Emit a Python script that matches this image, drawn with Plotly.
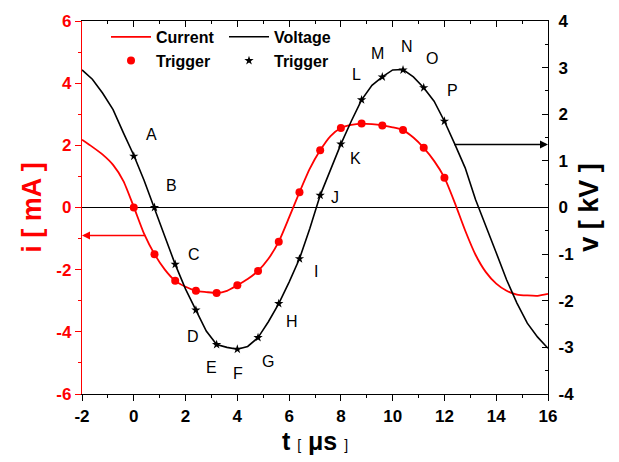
import plotly.graph_objects as go

# ---- data -------------------------------------------------------------
# sampled time axis for the continuous traces [us]
t_trace = [-2.0, -1.6, -1.2, -0.8, -0.4, 0.0, 0.4, 0.8, 1.2, 1.6, 2.0, 2.4,
           2.8, 3.2, 3.6, 4.0, 4.4, 4.8, 5.2, 5.6, 6.0, 6.4, 6.8, 7.2, 7.6,
           8.0, 8.4, 8.8, 9.2, 9.6, 10.0, 10.4, 10.8, 11.2, 11.6, 12.0, 12.4,
           12.8, 13.2, 13.6, 14.0, 14.4, 14.8, 15.2, 15.6, 16.0]

# discharge current [mA]
current = [2.18, 1.95, 1.70, 1.37, 0.85, 0.02, -0.85, -1.50, -2.00, -2.36,
           -2.55, -2.68, -2.72, -2.75, -2.68, -2.50, -2.30, -2.04, -1.65,
           -1.10, -0.32, 0.49, 1.25, 1.84, 2.30, 2.56, 2.66, 2.70, 2.68,
           2.64, 2.58, 2.49, 2.25, 1.92, 1.50, 0.96, 0.15, -0.74, -1.52,
           -2.08, -2.45, -2.68, -2.80, -2.83, -2.84, -2.78]

# applied voltage [kV]
voltage = [2.95, 2.75, 2.45, 2.10, 1.60, 1.12, 0.58, 0.00, -0.62, -1.22,
           -1.75, -2.20, -2.65, -2.94, -3.00, -3.04, -2.98, -2.79, -2.45,
           -2.06, -1.60, -1.10, -0.45, 0.26, 0.80, 1.36, 1.85, 2.31, 2.62,
           2.80, 2.95, 2.96, 2.80, 2.57, 2.28, 1.85, 1.36, 0.85, 0.17,
           -0.42, -0.97, -1.55, -2.05, -2.48, -2.78, -3.02]

# trigger instants [us] and the sampled values at each trigger
t_trig = [0.0, 0.8, 1.6, 2.4, 3.2, 4.0, 4.8, 5.6, 6.4, 7.2, 8.0, 8.8, 9.6,
          10.4, 11.2, 12.0]
i_trig = [0.00, -1.50, -2.36, -2.68, -2.75, -2.50, -2.04, -1.10, 0.49, 1.84,
          2.56, 2.70, 2.64, 2.49, 1.92, 0.96]
v_trig = [1.10, 0.00, -1.22, -2.20, -2.94, -3.04, -2.79, -2.06, -1.10, 0.26,
          1.36, 2.31, 2.80, 2.95, 2.57, 1.85]
trig_letters = ["A", "B", "C", "D", "E", "F", "G", "H", "I", "J", "K", "L",
                "M", "N", "O", "P"]
# label anchor points (t [us], v [kV]) for the trigger letters
letter_t = [0.70, 1.47, 2.32, 2.29, 3.02, 4.02, 5.18, 6.10, 7.03, 7.77, 8.58,
            8.62, 9.43, 10.55, 11.50, 12.30]
letter_v = [1.57, 0.47, -1.00, -2.77, -3.43, -3.57, -3.30, -2.45, -1.38,
            0.21, 1.06, 2.85, 3.30, 3.45, 3.19, 2.51]

# axis arrows: (start t, level) pointing to the matching axis
cur_arrow = (0.5, -0.9)     # mA, towards the left axis
volt_arrow = (12.32, 1.35)  # kV, towards the right axis

# tick positions and labels (plain hyphen as minus sign)
t_ticks = [-2, 0, 2, 4, 6, 8, 10, 12, 14, 16]
i_ticks = [-6, -4, -2, 0, 2, 4, 6]
v_ticks = [-4, -3, -2, -1, 0, 1, 2, 3, 4]


def bold_labels(vals):
    return ["<b>%d</b>" % v for v in vals]


RED = "#ff0000"
BLACK = "#000000"
FONT = "Liberation Sans, Arial, sans-serif"

fig = go.Figure()

fig.add_trace(go.Scatter(
    x=t_trace, y=current, mode="lines", name="<b>Current</b>",
    line=dict(color=RED, width=1.8, shape="spline", smoothing=0.6),
    legend="legend", legendrank=1))
fig.add_trace(go.Scatter(
    x=t_trig, y=i_trig, mode="markers", name="<b>Trigger</b>",
    marker=dict(color=RED, size=8, symbol="circle"),
    legend="legend", legendrank=2))
fig.add_trace(go.Scatter(
    x=t_trace, y=voltage, mode="lines", name="<b>Voltage</b>",
    line=dict(color=BLACK, width=1.6), yaxis="y2",
    legend="legend2", legendrank=1))
fig.add_trace(go.Scatter(
    x=t_trig, y=v_trig, mode="markers", name="<b>Trigger</b>",
    marker=dict(color=BLACK, size=7, symbol="star"), yaxis="y2",
    legend="legend2", legendrank=2))
# carrier trace for the top tick axis
fig.add_trace(go.Scatter(x=[t_trace[0]], y=[current[0]], xaxis="x2",
                         mode="markers", marker=dict(opacity=0),
                         showlegend=False, hoverinfo="skip"))

annotations = []
for lab, lt, lv in zip(trig_letters, letter_t, letter_v):
    annotations.append(dict(x=lt, y=lv, xref="x", yref="y2", text=lab,
                            showarrow=False,
                            font=dict(family=FONT, size=16, color=BLACK)))

annotations.append(dict(x=-2, y=cur_arrow[1], xref="x", yref="y",
                        ax=cur_arrow[0], ay=cur_arrow[1], axref="x", ayref="y",
                        text="", showarrow=True, arrowhead=2, arrowsize=1,
                        arrowwidth=1.6, arrowcolor=RED, standoff=0))
annotations.append(dict(x=16, y=volt_arrow[1], xref="x", yref="y2",
                        ax=volt_arrow[0], ay=volt_arrow[1], axref="x",
                        ayref="y2", text="", showarrow=True, arrowhead=2,
                        arrowsize=1, arrowwidth=1.6, arrowcolor=BLACK,
                        standoff=0))

tick_font = dict(family=FONT, size=17, color=BLACK)

fig.update_layout(
    width=619, height=462,
    margin=dict(l=82, r=71, t=19, b=66),
    paper_bgcolor="white", plot_bgcolor="white",
    font=dict(family=FONT, color=BLACK),
    showlegend=True,
    annotations=annotations,
    xaxis=dict(
        range=[-2, 16], tickmode="array", tickvals=t_ticks,
        ticktext=bold_labels(t_ticks), showgrid=False, zeroline=False,
        showline=True, linecolor=BLACK, linewidth=1.3,
        ticks="outside", ticklen=6, tickwidth=1.3, tickcolor=BLACK,
        minor=dict(dtick=1, tick0=0, ticks="outside", ticklen=3,
                   tickcolor=BLACK),
        tickfont=tick_font,
        title=dict(
            text="<b>t</b> <span style='font-size:14px'>[</span> "
                 "<b>\u03bcs</b> <span style='font-size:14px'>]</span>",
            font=dict(family=FONT, size=25, color=BLACK), standoff=7),
    ),
    xaxis2=dict(
        range=[-2, 16], tickmode="array", tickvals=t_ticks, overlaying="x",
        side="top", showgrid=False, zeroline=False, showline=True,
        linecolor=BLACK, linewidth=1.3, ticks="inside", ticklen=6,
        tickwidth=1.3, tickcolor=BLACK, showticklabels=False,
        minor=dict(dtick=1, tick0=0, ticks="inside", ticklen=3,
                   tickcolor=BLACK),
    ),
    yaxis=dict(
        range=[-6, 6], tickmode="array", tickvals=i_ticks,
        ticktext=bold_labels(i_ticks), showgrid=False,
        zeroline=True, zerolinecolor=BLACK, zerolinewidth=1,
        showline=True, linecolor=RED, linewidth=1.3,
        ticks="outside", ticklen=6, tickwidth=1.3, tickcolor=RED,
        minor=dict(dtick=1, tick0=0, ticks="outside", ticklen=3,
                   tickcolor=RED),
        tickfont=dict(family=FONT, size=17, color=RED),
        title=dict(text="<b>i [ mA ]</b>",
                   font=dict(family=FONT, size=27, color=RED), standoff=6),
    ),
    yaxis2=dict(
        range=[-4, 4], tickmode="array", tickvals=v_ticks,
        ticktext=bold_labels(v_ticks), overlaying="y", side="right",
        showgrid=False, zeroline=False, showline=True, linecolor=BLACK,
        linewidth=1.3, ticks="inside", ticklen=6, tickwidth=1.3,
        tickcolor=BLACK,
        minor=dict(dtick=0.5, tick0=0, ticks="inside", ticklen=3,
                   tickcolor=BLACK),
        tickfont=tick_font, ticklabelstandoff=6,
        title=dict(text="<b>v [ kV ]</b>",
                   font=dict(family=FONT, size=27, color=BLACK), standoff=5),
    ),
    legend=dict(
        x=(106 - 82) / 466, y=1.003, xanchor="left", yanchor="top",
        bgcolor="rgba(0,0,0,0)", borderwidth=0, itemwidth=40,
        font=dict(family=FONT, size=16, color=BLACK), tracegroupgap=0,
    ),
    legend2=dict(
        x=(224 - 82) / 466, y=1.003, xanchor="left", yanchor="top",
        bgcolor="rgba(0,0,0,0)", borderwidth=0, itemwidth=40,
        font=dict(family=FONT, size=16, color=BLACK), tracegroupgap=0,
    ),
)

fig.write_html("out.html")
